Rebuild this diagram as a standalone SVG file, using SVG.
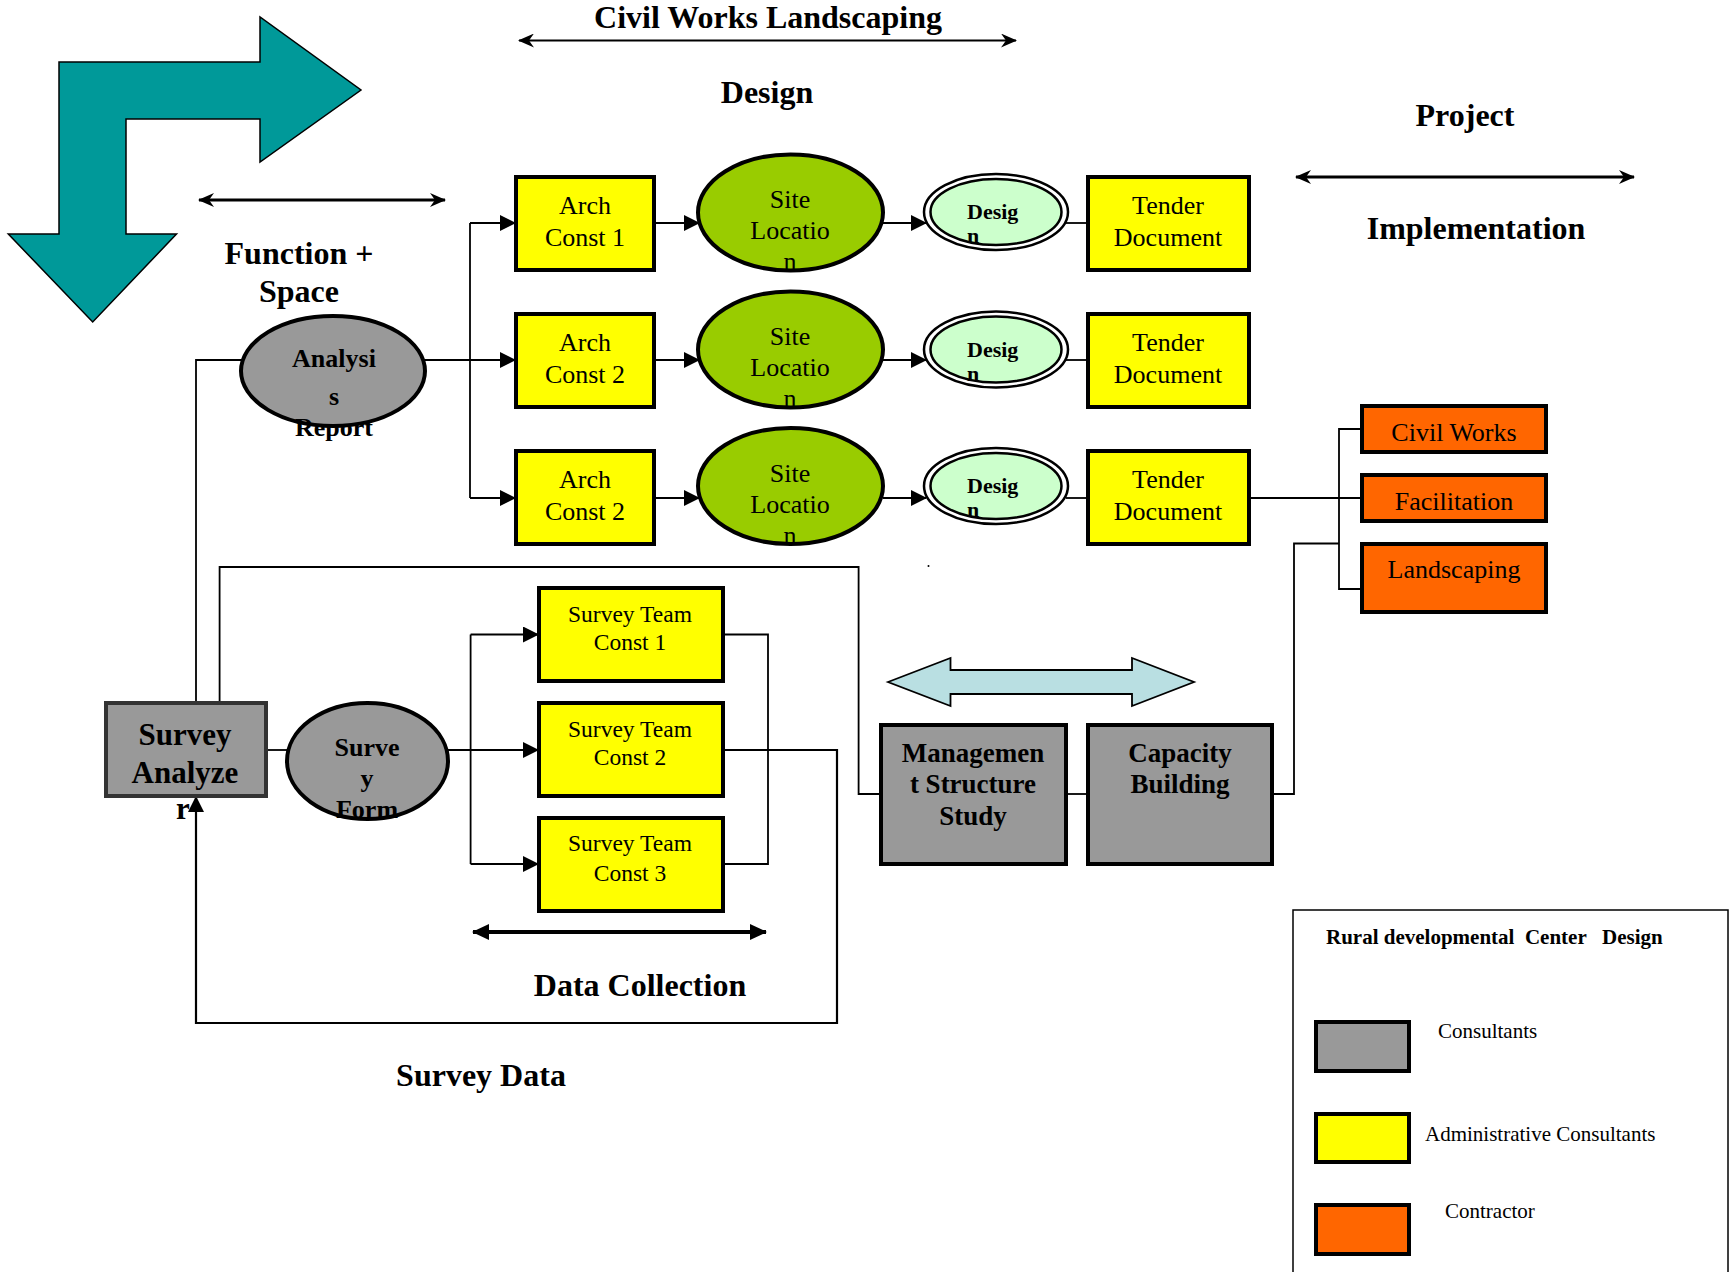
<svg xmlns="http://www.w3.org/2000/svg" width="1730" height="1272" viewBox="0 0 1730 1272">
<style>
text{font-family:"Liberation Serif","Times New Roman",serif;fill:#000}
.h{font-size:32px;font-weight:bold;text-anchor:middle}
.n{font-size:26px;text-anchor:middle}
.b{font-weight:bold}
.c{text-anchor:middle}
.ln{fill:none;stroke:#000;stroke-width:1.8}
.ar{fill:none;stroke:#000;stroke-width:2.2;marker-end:url(#tri)}
.yel{fill:#FFFF00;stroke:#000;stroke-width:4}
.gry{fill:#999999;stroke:#000;stroke-width:4}
.org{fill:#FF6600;stroke:#000;stroke-width:4}
.sh{fill:#C8C8C8}
.grn{fill:#99CC00;stroke:#000;stroke-width:4}
</style>
<defs>
<marker id="tri" markerUnits="userSpaceOnUse" markerWidth="16" markerHeight="16" refX="15" refY="8" orient="auto-start-reverse">
<path d="M0,0 L16,8 L0,16 z" fill="#000"/>
</marker>
<marker id="barb" markerUnits="userSpaceOnUse" markerWidth="16" markerHeight="14" refX="15" refY="7" orient="auto-start-reverse">
<path d="M0,0 L16,7 L0,14 L5,7 z" fill="#000"/>
</marker>
<marker id="fat" markerUnits="userSpaceOnUse" markerWidth="17" markerHeight="16" refX="16" refY="8" orient="auto-start-reverse">
<path d="M0,0 L17,8 L0,16 z" fill="#000"/>
</marker>
</defs>

<g id="decor">
<polygon points="59,62 260,62 260,17 361,90 260,162 260,119 126,119 126,234 176.5,234 92.7,322 8.3,234 59,234" fill="#009999" stroke="#000" stroke-width="1.5"/>
<polygon points="888,682 950.5,658 950.5,670 1132,670 1132,658 1194,682 1132,706 1132,694 950.5,694 950.5,706" fill="#B9DFE2" stroke="#000" stroke-width="1.8"/>
<circle cx="928.5" cy="566" r="1" fill="#000"/>
</g>

<g id="labels">
<text class="h" x="768" y="28">Civil Works Landscaping</text>
<text class="h" x="767" y="103">Design</text>
<text class="h" x="1465" y="126">Project</text>
<text class="h" x="1476" y="239">Implementation</text>
<text class="h" x="299" y="264">Function +</text>
<text class="h" x="299" y="302">Space</text>
<text class="h" x="640" y="996">Data Collection</text>
<text class="h" x="481" y="1086">Survey Data</text>
</g>

<g id="connectors">
<line x1="519" y1="40.5" x2="1016" y2="40.5" stroke="#000" stroke-width="2" marker-start="url(#barb)" marker-end="url(#barb)"/>
<line x1="1296" y1="177" x2="1634" y2="177" stroke="#000" stroke-width="3" marker-start="url(#barb)" marker-end="url(#barb)"/>
<line x1="199" y1="200" x2="445" y2="200" stroke="#000" stroke-width="3" marker-start="url(#barb)" marker-end="url(#barb)"/>
<line x1="473" y1="932" x2="766" y2="932" stroke="#000" stroke-width="4" marker-start="url(#fat)" marker-end="url(#fat)"/>

<polyline class="ln" points="196,703 196,360 243,360"/>
<line class="ln" x1="423" y1="360" x2="470" y2="360"/>
<line class="ln" x1="470" y1="223" x2="470" y2="498"/>
<line class="ar" x1="470" y1="223" x2="515" y2="223"/>
<line class="ar" x1="470" y1="360" x2="515" y2="360"/>
<line class="ar" x1="470" y1="498" x2="515" y2="498"/>

<line class="ar" x1="654" y1="223" x2="699" y2="223"/>
<line class="ar" x1="654" y1="360" x2="699" y2="360"/>
<line class="ar" x1="654" y1="498" x2="699" y2="498"/>

<line class="ar" x1="883" y1="223" x2="926" y2="223"/>
<line class="ar" x1="883" y1="360" x2="926" y2="360"/>
<line class="ar" x1="883" y1="498" x2="926" y2="498"/>

<line class="ln" x1="1066" y1="223" x2="1087" y2="223"/>
<line class="ln" x1="1066" y1="360" x2="1087" y2="360"/>
<line class="ln" x1="1066" y1="498" x2="1087" y2="498"/>

<line class="ln" x1="1249" y1="498" x2="1362" y2="498"/>
<polyline class="ln" points="1362,429 1339,429 1339,589 1362,589"/>
<polyline class="ln" points="1272,794 1294,794 1294,543.5 1339,543.5"/>
<line class="ln" x1="1066" y1="794" x2="1087" y2="794"/>
<polyline class="ln" points="219.6,703 219.6,567 858.6,567 858.6,794 880,794"/>

<line class="ln" x1="266" y1="750" x2="287" y2="750"/>
<line class="ar" x1="448" y1="750" x2="538" y2="750"/>
<line class="ln" x1="470.6" y1="634.5" x2="470.6" y2="864"/>
<line class="ar" x1="470.6" y1="634.5" x2="538" y2="634.5"/>
<line class="ar" x1="470.6" y1="864" x2="538" y2="864"/>
<polyline class="ln" points="723,634.5 768,634.5 768,864 723,864"/>
<polyline class="ar" points="723,750 837,750 837,1023 196,1023 196,797"/>
</g>

<g id="analysis-report">
<ellipse cx="333" cy="371" rx="92" ry="55" class="gry"/>
<text class="n b" x="334" y="367">Analysi</text>
<text class="n b" x="334" y="405">s</text>
<text class="n b" x="334" y="436">Report</text>
</g>

<g id="arch-const-1">
<rect x="516" y="177" width="138" height="93" class="yel"/>
<text class="n" x="585" y="214">Arch</text>
<text class="n" x="585" y="246">Const 1</text>
</g>
<g id="arch-const-2a">
<rect x="516" y="314" width="138" height="93" class="yel"/>
<text class="n" x="585" y="351">Arch</text>
<text class="n" x="585" y="383">Const 2</text>
</g>
<g id="arch-const-2b">
<rect x="516" y="451" width="138" height="93" class="yel"/>
<text class="n" x="585" y="488">Arch</text>
<text class="n" x="585" y="520">Const 2</text>
</g>

<g id="site-location-1">
<ellipse cx="790.5" cy="212.5" rx="92.5" ry="58" class="grn"/>
<text class="n" x="790" y="208">Site</text>
<text class="n" x="790" y="239">Locatio</text>
<text class="n" x="790" y="270">n</text>
</g>
<g id="site-location-2">
<ellipse cx="790.5" cy="349.5" rx="92.5" ry="58" class="grn"/>
<text class="n" x="790" y="345">Site</text>
<text class="n" x="790" y="376">Locatio</text>
<text class="n" x="790" y="407">n</text>
</g>
<g id="site-location-3">
<ellipse cx="790.5" cy="486" rx="92.5" ry="58" class="grn"/>
<text class="n" x="790" y="481.5">Site</text>
<text class="n" x="790" y="512.5">Locatio</text>
<text class="n" x="790" y="543.5">n</text>
</g>

<g id="design-1">
<ellipse cx="996" cy="212" rx="72" ry="38" fill="#fff" stroke="#000" stroke-width="2.5"/>
<ellipse cx="996" cy="212" rx="65.5" ry="33" fill="#CCFFCC" stroke="#000" stroke-width="2.5"/>
<text class="b" x="967" y="219" font-size="22">Desig</text>
<text class="b" x="967" y="243" font-size="22">n</text>
</g>
<g id="design-2">
<ellipse cx="996" cy="349.5" rx="72" ry="38" fill="#fff" stroke="#000" stroke-width="2.5"/>
<ellipse cx="996" cy="349.5" rx="65.5" ry="33" fill="#CCFFCC" stroke="#000" stroke-width="2.5"/>
<text class="b" x="967" y="356.5" font-size="22">Desig</text>
<text class="b" x="967" y="380.5" font-size="22">n</text>
</g>
<g id="design-3">
<ellipse cx="996" cy="486" rx="72" ry="38" fill="#fff" stroke="#000" stroke-width="2.5"/>
<ellipse cx="996" cy="486" rx="65.5" ry="33" fill="#CCFFCC" stroke="#000" stroke-width="2.5"/>
<text class="b" x="967" y="493" font-size="22">Desig</text>
<text class="b" x="967" y="517" font-size="22">n</text>
</g>

<g id="tender-1">
<rect x="1088" y="177" width="161" height="93" class="yel"/>
<text class="n" x="1168" y="214">Tender</text>
<text class="n" x="1168" y="246">Document</text>
</g>
<g id="tender-2">
<rect x="1088" y="314" width="161" height="93" class="yel"/>
<text class="n" x="1168" y="351">Tender</text>
<text class="n" x="1168" y="383">Document</text>
</g>
<g id="tender-3">
<rect x="1088" y="451" width="161" height="93" class="yel"/>
<text class="n" x="1168" y="488">Tender</text>
<text class="n" x="1168" y="520">Document</text>
</g>

<g id="civil-works">
<rect x="1364" y="408" width="184" height="46" class="sh"/>
<rect x="1362" y="406" width="184" height="46" class="org"/>
<text class="n" x="1454" y="441">Civil Works</text>
</g>
<g id="facilitation">
<rect x="1364" y="477" width="184" height="46" class="sh"/>
<rect x="1362" y="475" width="184" height="46" class="org"/>
<text class="n" x="1454" y="510">Facilitation</text>
</g>
<g id="landscaping">
<rect x="1364" y="546" width="184" height="68" class="sh"/>
<rect x="1362" y="544" width="184" height="68" class="org"/>
<text class="n" x="1454" y="578">Landscaping</text>
</g>

<g id="management-structure-study">
<rect x="881" y="725" width="185" height="139" class="gry"/>
<text class="b c" x="973" y="762" font-size="27">Managemen</text>
<text class="b c" x="973" y="793" font-size="27">t Structure</text>
<text class="b c" x="973" y="825" font-size="27">Study</text>
</g>
<g id="capacity-building">
<rect x="1088" y="725" width="184" height="139" class="gry"/>
<text class="b c" x="1180" y="762" font-size="27">Capacity</text>
<text class="b c" x="1180" y="793" font-size="27">Building</text>
</g>

<g id="survey-analyzer">
<rect x="106" y="703" width="160" height="93" fill="#999999" stroke="#333333" stroke-width="4"/>
<text class="b c" x="185" y="745" font-size="31">Survey</text>
<text class="b c" x="185" y="783" font-size="31">Analyze</text>
<text class="b c" x="183" y="819" font-size="31">r</text>
</g>

<g id="survey-form">
<ellipse cx="367.5" cy="761" rx="80.5" ry="58" class="gry"/>
<text class="n b" x="367" y="756">Surve</text>
<text class="n b" x="367" y="787">y</text>
<text class="n b" x="367" y="818">Form</text>
</g>

<g id="survey-team-1">
<rect x="539" y="588" width="184" height="93" class="yel"/>
<text class="c" x="630" y="622" font-size="23.5">Survey Team</text>
<text class="c" x="630" y="650" font-size="23.5">Const 1</text>
</g>
<g id="survey-team-2">
<rect x="539" y="703" width="184" height="93" class="yel"/>
<text class="c" x="630" y="737" font-size="23.5">Survey Team</text>
<text class="c" x="630" y="765" font-size="23.5">Const 2</text>
</g>
<g id="survey-team-3">
<rect x="539" y="818" width="184" height="93" class="yel"/>
<text class="c" x="630" y="851" font-size="23.5">Survey Team</text>
<text class="c" x="630" y="881" font-size="23.5">Const 3</text>
</g>

<g id="legend">
<rect x="1293" y="910" width="435" height="400" fill="none" stroke="#000" stroke-width="1.5"/>
<text class="b" x="1326" y="944" font-size="21" xml:space="preserve">Rural developmental  Center   Design</text>
<rect x="1318" y="1024" width="93" height="49" class="sh"/>
<rect x="1316" y="1022" width="93" height="49" class="gry"/>
<text x="1438" y="1038" font-size="21">Consultants</text>
<rect x="1318" y="1116" width="93" height="48" class="sh"/>
<rect x="1316" y="1114" width="93" height="48" class="yel"/>
<text x="1425" y="1141" font-size="21">Administrative Consultants</text>
<rect x="1318" y="1207" width="93" height="49" class="sh"/>
<rect x="1316" y="1205" width="93" height="49" class="org"/>
<text x="1445" y="1218" font-size="21">Contractor</text>
</g>
</svg>
